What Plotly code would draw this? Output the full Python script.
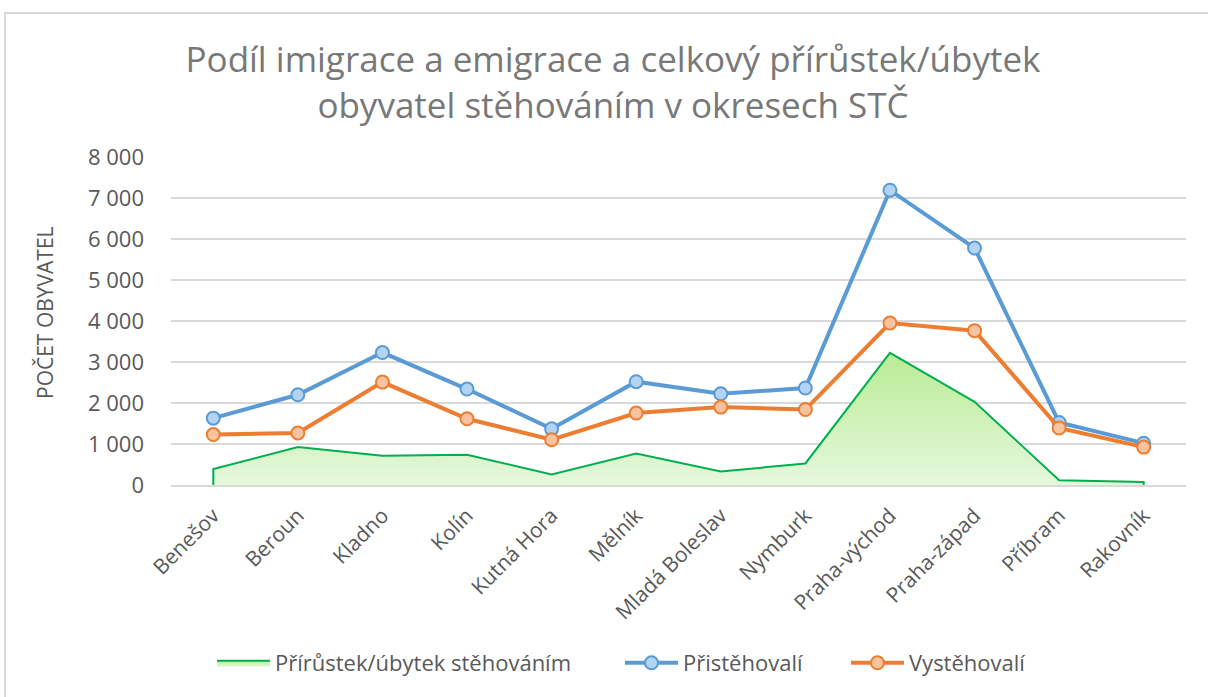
import plotly.graph_objects as go

districts = ["Benešov", "Beroun", "Kladno", "Kolín", "Kutná Hora", "Mělník",
             "Mladá Boleslav", "Nymburk", "Praha-východ", "Praha-západ",
             "Příbram", "Rakovník"]
immigrants = [1630, 2200, 3230, 2340, 1370, 2520, 2225, 2365, 7190, 5780, 1525, 1020]
emigrants = [1230, 1270, 2510, 1615, 1105, 1755, 1900, 1840, 3950, 3765, 1390, 925]
net_change = [390, 925, 715, 740, 255, 765, 330, 525, 3225, 2030, 115, 75]

y_ticks = [0, 1000, 2000, 3000, 4000, 5000, 6000, 7000, 8000]

title_text = "Podíl imigrace a emigrace a celkový přírůstek/úbytek<br>obyvatel stěhováním v okresech STČ"
ytitle_text = "POČET OBYVATEL"
names = ["Přírůstek/úbytek stěhováním", "Přistěhovalí", "Vystěhovalí"]

FONT = "Open Sans"
GRAY = "#595959"

# area polygon closed down to the axis at the first and last category
x_area = [districts[0]] + districts + [districts[-1]]
y_area = [0] + net_change + [0]

fig = go.Figure()
fig.add_trace(go.Scatter(
    x=x_area, y=y_area, name=names[0], mode="lines", legend="legend",
    line=dict(color="#00b050", width=2),
    fill="tozeroy",
    fillcolor="#dcf4ce",
    fillgradient=dict(type="vertical",
                      colorscale=[[0, "#e6f8dd"], [1, "#b9ec93"]]),
))
fig.add_trace(go.Scatter(
    x=districts, y=immigrants, name=names[1], mode="lines+markers",
    legend="legend2",
    line=dict(color="#5b9bd5", width=4),
    marker=dict(symbol="circle", size=13, color="#b3d3f3",
                line=dict(color="#5b9bd5", width=2)),
))
fig.add_trace(go.Scatter(
    x=districts, y=emigrants, name=names[2], mode="lines+markers",
    legend="legend3",
    line=dict(color="#ed7d31", width=4),
    marker=dict(symbol="circle", size=13, color="#f9c3a0",
                line=dict(color="#ed7d31", width=2)),
))

L, R, T, B = 171, 22, 157, 212
W, H = 1208, 697
pw, ph = W - L - R, H - T - B

def px_x(x):
    return (x - L) / pw

def px_y(y):
    return (H - B - y) / ph

def legend_at(xpx):
    return dict(orientation="h", x=px_x(xpx), y=px_y(663),
                xanchor="left", yanchor="middle",
                font=dict(family=FONT, size=22, color=GRAY),
                bgcolor="rgba(0,0,0,0)", itemwidth=53)

fig.update_layout(
    width=W, height=H,
    margin=dict(l=L, r=R, t=T, b=B, autoexpand=False),
    paper_bgcolor="white", plot_bgcolor="white",
    separators=", ",
    font=dict(family=FONT, color=GRAY),
    title=dict(text=title_text, xref="container", yref="container",
               x=613 / W, y=1 - 72 / H, xanchor="center", yanchor="middle",
               font=dict(family=FONT, size=35, color="#787878")),
    showlegend=True,
    legend=legend_at(212),
    legend2=legend_at(620),
    legend3=legend_at(846),
    xaxis=dict(type="category", tickangle=-45, showgrid=False,
               showline=True, linecolor="#d9d9d9", linewidth=2,
               ticks="", ticklabelstandoff=8,
               tickfont=dict(family=FONT, size=21, color=GRAY),
               range=[-0.5, len(districts) - 0.5]),
    yaxis=dict(range=[0, 8000], tickvals=y_ticks, tickformat=",d",
               showgrid=True, gridcolor="#d9d9d9", gridwidth=2,
               zeroline=False, showline=False, ticks="",
               ticklabelstandoff=26,
               tickfont=dict(family=FONT, size=22, color=GRAY)),
    annotations=[dict(text=ytitle_text, xref="paper", yref="paper",
                      x=px_x(45), y=px_y(313), textangle=-90,
                      showarrow=False, xanchor="center", yanchor="middle",
                      font=dict(family=FONT, size=21, color=GRAY))],
    shapes=[dict(type="rect", xref="paper", yref="paper",
                 x0=px_x(5), x1=px_x(1230), y0=px_y(720), y1=px_y(13),
                 line=dict(color="#d9d9d9", width=2), layer="below")],
)

fig.write_html("out.html", config={"displayModeBar": False},
               post_script="document.body.style.margin='0';")
